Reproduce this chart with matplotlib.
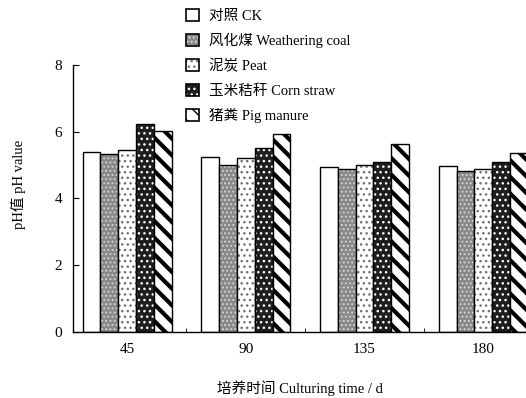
import matplotlib

matplotlib.use("Agg")
import matplotlib.pyplot as plt
import numpy as np
from matplotlib.legend_handler import HandlerTuple
from matplotlib.patches import Patch

plt.rcParams["font.family"] = ["Liberation Serif", "Noto Sans CJK SC"]

days = ["45", "90", "135", "180"]
treatments = ["对照 CK", "风化煤 Weathering coal", "泥炭 Peat", "玉米秸秆 Corn straw", "猪粪 Pig manure"]
ph_ck = [5.38, 5.25, 4.94, 4.96]
ph_coal = [5.33, 5.01, 4.89, 4.83]
ph_peat = [5.44, 5.20, 4.99, 4.88]
ph_straw = [6.22, 5.52, 5.10, 5.10]
ph_manure = [6.02, 5.92, 5.62, 5.37]
series = [ph_ck, ph_coal, ph_peat, ph_straw, ph_manure]

# face colour, hatch, hatch colour, hatch linewidth
styles = [
    ("white", "", "black", 1.0),
    ("#8a8a8a", "....", "#d8d8d8", 0.8),
    ("white", "...", "#707070", 1.0),
    ("#1e1e1e", "...", "white", 1.0),
    ("white", "\\\\", "black", 3.0),
]

fig = plt.figure(figsize=(5.26, 3.98), dpi=100)
ax = fig.add_axes([0.139, 0.167, 0.861, 0.670])

x = np.arange(len(days))
width = 0.15
handles = []
for i, (vals, (fc, hatch, hc, hlw)) in enumerate(zip(series, styles)):
    pos = x + (i - 2) * width
    with plt.rc_context({"hatch.linewidth": hlw}):
        ax.bar(pos, vals, width, facecolor=fc, hatch=hatch, edgecolor=hc, linewidth=0)
        fill = Patch(facecolor=fc, hatch=hatch, edgecolor=hc, linewidth=0)
    ax.bar(pos, vals, width, fill=False, edgecolor="black", linewidth=1.0)
    outline = Patch(fill=False, edgecolor="black", linewidth=1.2)
    handles.append((fill, outline))

ax.set_xlim(-0.455, 3.36)
ax.set_ylim(0, 8)
ax.set_yticks([0, 2, 4, 6, 8])
ax.set_xticks(x)
ax.set_xticklabels(days)
ax.set_xticks([0.5, 1.5, 2.5], minor=True)
ax.tick_params(axis="x", which="major", length=0, pad=8, labelsize=11)
ax.tick_params(axis="x", which="minor", direction="in", length=3)
ax.tick_params(axis="y", direction="in", length=4, labelsize=11, pad=8)
for side in ("top", "right"):
    ax.spines[side].set_visible(False)
for side in ("left", "bottom"):
    ax.spines[side].set_linewidth(1.0)

ax.set_ylabel("pH值 pH value", fontsize=10.5, labelpad=20)
ax.yaxis.set_label_coords(-0.105, 0.55)
ax.set_xlabel("培养时间 Culturing time / d", fontsize=10.5, labelpad=18)

fig.legend(handles, treatments, handler_map={tuple: HandlerTuple(ndivide=1)},
           loc="upper left", bbox_to_anchor=(0.342, 0.993), frameon=False,
           fontsize=10.5, handlelength=0.9, handleheight=0.9, handletextpad=0.7,
           labelspacing=0.72, borderaxespad=0)

fig.savefig("out.png", dpi=100)
